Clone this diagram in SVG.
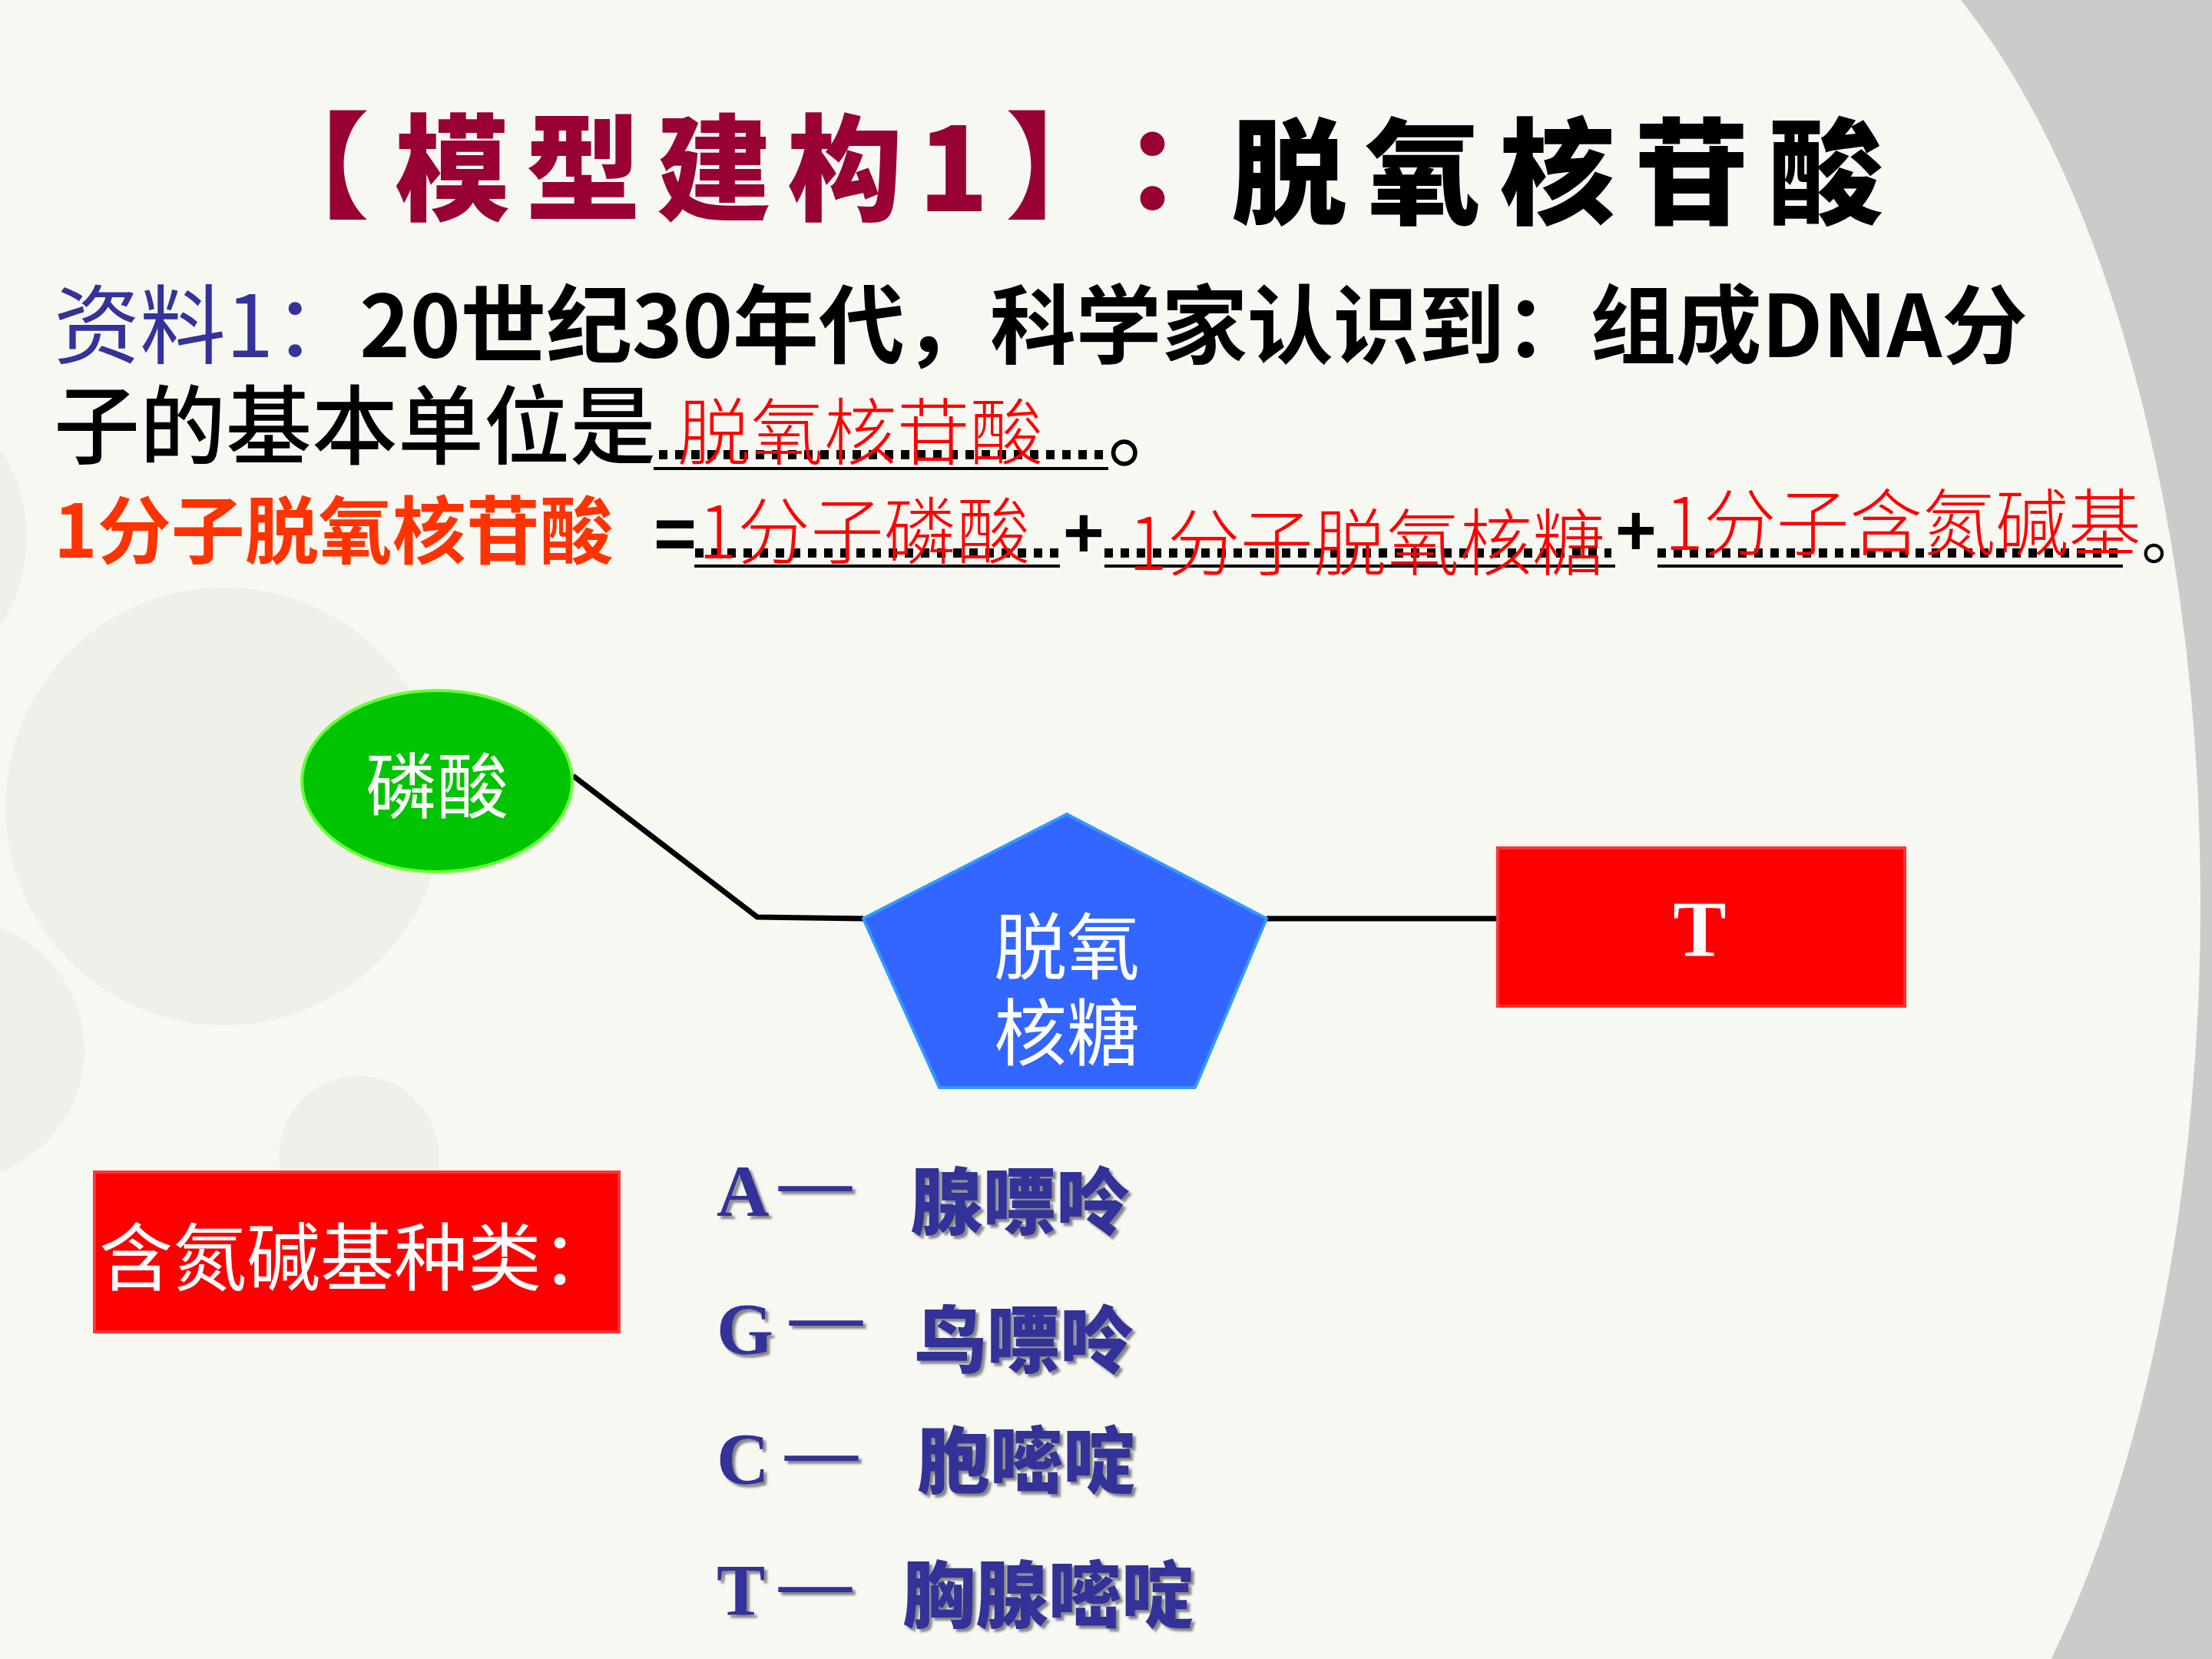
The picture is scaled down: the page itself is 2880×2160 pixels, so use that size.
<svg xmlns="http://www.w3.org/2000/svg" width="2880" height="2160" viewBox="0 0 2880 2160">
<defs>
<style>
.cjk{font-family:"Noto Sans CJK SC","Noto Sans",sans-serif}
.ser{font-family:"Liberation Serif","Noto Sans CJK SC",serif}
.ans{font-family:"Noto Sans CJK SC",sans-serif;fill:#ff0000;font-weight:300;font-size:95px}
.dots{stroke:#000;stroke-width:12;stroke-dasharray:11 10;fill:none}
.uline{stroke:#000;stroke-width:4}
.conn{stroke:#000;stroke-width:7;fill:none}
.base{fill:#333399;font-size:95px}
.wt{fill:#fff}
.bgc{fill:#f0f0eb}
</style>
<filter id="sh" x="-10%" y="-10%" width="130%" height="130%">
<feDropShadow dx="4" dy="4" stdDeviation="1.5" flood-color="#7a7a7a" flood-opacity="0.9"/>
</filter>
</defs>

<g id="background">
<rect x="0" y="0" width="2880" height="2160" fill="#cbccca"/>
<rect x="0" y="0" width="2250" height="2160" fill="#f8f8f3"/>
<ellipse cx="2250" cy="1175" rx="615" ry="1350" fill="#f8f8f3"/>
<circle class="bgc" cx="292" cy="1050" r="285"/>
<circle class="bgc" cx="-60" cy="1367" r="170"/>
<circle class="bgc" cx="-175" cy="700" r="210"/>
<circle class="bgc" cx="467" cy="1505" r="104"/>
</g>

<g id="title" class="cjk" font-size="150" font-weight="900">
<text x="331" y="272" fill="#990033">【</text>
<text x="514" y="275" fill="#990033" textLength="773" lengthAdjust="spacing">模型建构1</text>
<text x="1309" y="272" fill="#990033">】</text>
<text x="1463" y="272" fill="#990033">：</text>
<text x="1603" y="280" fill="#000" textLength="849" lengthAdjust="spacing">脱氧核苷酸</text>
</g>

<g id="material" class="cjk">
<text x="70" y="465" font-size="112" fill="#333399">资料1：</text>
<text x="468" y="465" font-size="112" font-weight="700" fill="#000" textLength="2172" lengthAdjust="spacing">20世纪30年代，科学家认识到：组成DNA分</text>
<text x="70" y="596" font-size="112" font-weight="500" fill="#000">子的基本单位是</text>
<line class="dots" x1="858" y1="592" x2="1442" y2="592"/>
<line class="uline" x1="851" y1="610" x2="1443" y2="610"/>
<text class="ans" x="882" y="598" textLength="476" lengthAdjust="spacing">脱氧核苷酸</text>
<text x="1442" y="600" font-size="112" fill="#000">。</text>
</g>

<g id="equation">
<text class="cjk" x="70" y="726" font-size="96" font-weight="700" fill="#ff3300">1分子脱氧核苷酸</text>
<text x="851" y="728" font-family="Liberation Sans, sans-serif" font-size="96" font-weight="700" fill="#000">=</text>
<line class="dots" x1="905" y1="720" x2="1381" y2="720"/>
<line class="uline" x1="904" y1="737" x2="1380" y2="737"/>
<text class="ans" x="909" y="727" textLength="432" lengthAdjust="spacing">1分子磷酸</text>
<text x="1384" y="725" font-family="Liberation Sans, sans-serif" font-size="92" font-weight="700" fill="#000">+</text>
<line class="dots" x1="1438" y1="720" x2="2098" y2="720"/>
<line class="uline" x1="1438" y1="737" x2="2103" y2="737"/>
<text class="ans" x="1469" y="742" textLength="621" lengthAdjust="spacing">1分子脱氧核糖</text>
<text x="2103" y="722" font-family="Liberation Sans, sans-serif" font-size="92" font-weight="700" fill="#000">+</text>
<line class="dots" x1="2158" y1="720" x2="2764" y2="720"/>
<line class="uline" x1="2158" y1="737" x2="2764" y2="737"/>
<text class="ans" x="2167" y="716" textLength="621" lengthAdjust="spacing">1分子含氮碱基</text>
<text class="cjk" x="2788" y="728" font-size="84" fill="#000">。</text>
</g>

<g id="connectors">
<polyline class="conn" points="746,1010 986,1194 1124,1196"/>
<line class="conn" x1="1649" y1="1196" x2="1950" y2="1196"/>
</g>

<g id="node-phosphate">
<ellipse cx="569" cy="1017" rx="176" ry="118" fill="#00c400" stroke="#66ff33" stroke-width="4"/>
<text class="cjk wt" x="569" y="1058" font-size="93" text-anchor="middle">磷酸</text>
</g>

<g id="node-sugar">
<polygon points="1389,1060 1649,1196 1556,1416 1223,1416 1124,1196" fill="#3366ff" stroke="#3399ff" stroke-width="4"/>
<text class="cjk wt" x="1389" y="1268" font-size="95" text-anchor="middle">脱氧</text>
<text class="cjk wt" x="1389" y="1380" font-size="95" text-anchor="middle">核糖</text>
</g>

<g id="node-base-T">
<rect x="1950" y="1104" width="530" height="206" fill="#ff0000" stroke="#ff3333" stroke-width="4"/>
<text class="ser wt" x="2213" y="1245" font-size="104" font-weight="700" text-anchor="middle">T</text>
</g>

<g id="node-base-types">
<rect x="123" y="1526" width="683" height="208" fill="#ff0000" stroke="#ff3333" stroke-width="4"/>
<text class="cjk wt" x="129" y="1672" font-size="96">含氮碱基种类：</text>
</g>

<g id="base-list" filter="url(#sh)">
<text class="ser base" x="933" y="1583" font-weight="700">A</text>
<text class="ser base" x="1014" y="1570" font-weight="700">—</text>
<text class="cjk base" x="1185" y="1600" font-weight="900">腺嘌呤</text>
<text class="ser base" x="933" y="1763" font-weight="700">G</text>
<text class="ser base" x="1028" y="1745" font-weight="700">—</text>
<text class="cjk base" x="1190" y="1780" font-weight="900">鸟嘌呤</text>
<text class="ser base" x="933" y="1932" font-weight="700">C</text>
<text class="ser base" x="1022" y="1921" font-weight="700">—</text>
<text class="cjk base" x="1194" y="1937" font-weight="900">胞嘧啶</text>
<text class="ser base" x="933" y="2103" font-weight="700">T</text>
<text class="ser base" x="1014" y="2092" font-weight="700">—</text>
<text class="cjk base" x="1175" y="2112" font-weight="900">胸腺嘧啶</text>
</g>
</svg>
